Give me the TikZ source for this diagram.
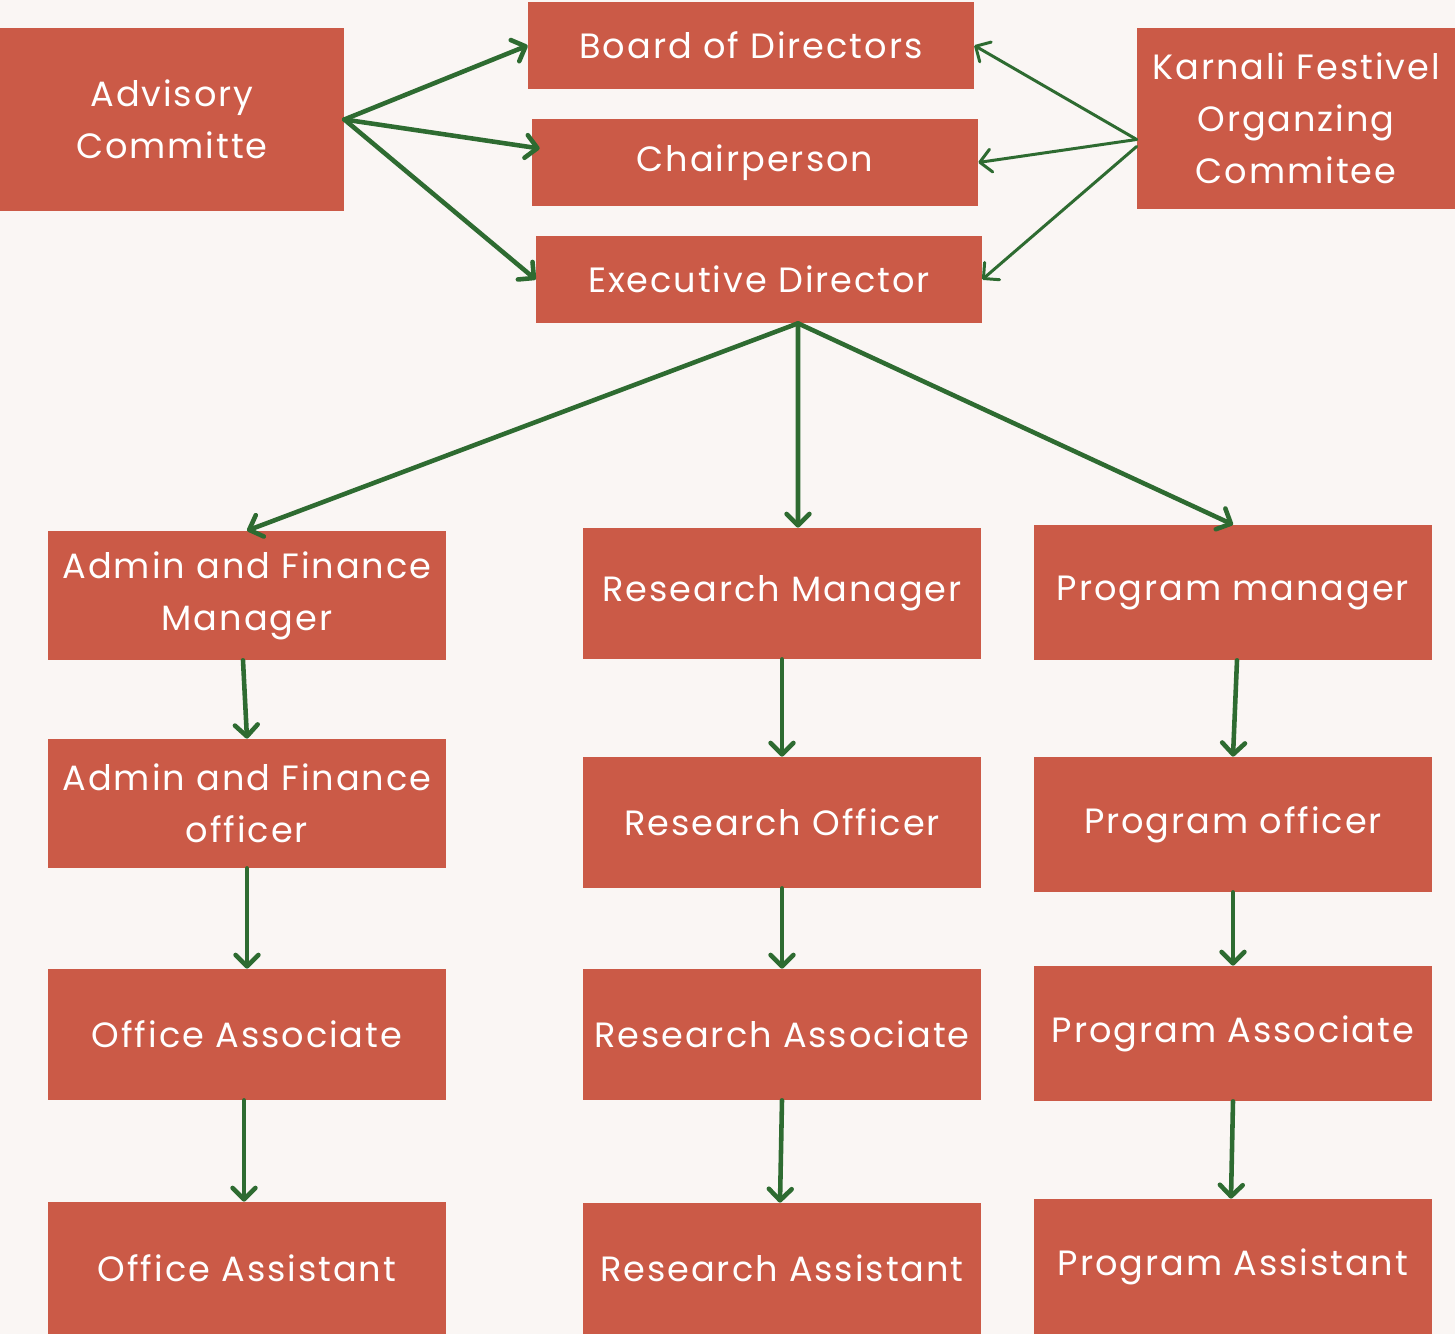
\documentclass[tikz,border=0pt]{standalone}
\usepackage{fontspec}
\setmainfont{Poppins}[LetterSpace=5.5]
\usepackage{xcolor}
\usetikzlibrary{arrows.meta,positioning,calc}

\definecolor{boxred}{HTML}{CB5A47}
\definecolor{paper}{HTML}{FAF6F4}
\definecolor{leaf}{HTML}{2E6B31}

\tikzset{
    role/.style={fill=boxred, text=white, inner sep=0pt, align=center,
        font=\fontsize{20}{29.5}\selectfont},
    col/.style={role, minimum width=7.96cm},
    link/.style={draw=leaf, line width=2.6pt, line cap=round,
        -{Straight Barb[length=6.5pt,width=13pt,round]}},
    thinlink/.style={link, line width=1.7pt}
}

\begin{document}
\begin{tikzpicture}[x=0.02cm, y=-0.02cm]
    % canvas
    \fill[paper] (0,0) rectangle (1455,1334);
    \useasboundingbox (0,0) rectangle (1455,1334);

    % Top level
    \node[role, minimum width=6.88cm, minimum height=3.66cm] (adv) at (172,119.5) {Advisory\\Committe};
    \node[role, minimum width=8.92cm, minimum height=1.74cm] (bod) at (751,45.5) {Board of Directors};
    \node[role, minimum width=8.92cm, minimum height=1.74cm] (chair) at (755,162.5) {Chairperson};
    \node[role, minimum width=8.92cm, minimum height=1.74cm] (ed) at (759,279.5) {Executive Director};
    \node[role, minimum width=6.36cm, minimum height=3.62cm] (kfoc) at (1296,118.5) {Karnali Festivel\\Organzing\\Commitee};

    % Admin column
    \node[col, minimum height=2.58cm] (afm) at (247,595.5) {Admin and Finance\\Manager};
    \node[col, minimum height=2.58cm] (afo) at (247,803.5) {Admin and Finance\\officer};
    \node[col, minimum height=2.62cm] (oa) at (247,1034.5) {Office Associate};
    \node[col, minimum height=2.64cm] (oas) at (247,1268) {Office Assistant};

    % Research column
    \node[col, minimum height=2.62cm] (rm) at (782,593.5) {Research Manager};
    \node[col, minimum height=2.62cm] (ro) at (782,822.5) {Research Officer};
    \node[col, minimum height=2.62cm] (ra) at (782,1034.5) {Research Associate};
    \node[col, minimum height=2.62cm] (ras) at (782,1268.5) {Research Assistant};

    % Program column
    \node[col, minimum height=2.70cm] (pm) at (1233,592.5) {Program manager};
    \node[col, minimum height=2.70cm] (po) at (1233,824.5) {Program officer};
    \node[col, minimum height=2.70cm] (pa) at (1233,1033.5) {Program Associate};
    \node[col, minimum height=2.70cm] (pas) at (1233,1266.5) {Program Assistant};

    % Advisory links
    \draw[link] (adv.east) -- (bod.west);
    \draw[link] (adv.east) -- ([xshift=0.16cm, yshift=0.28cm]chair.west);
    \draw[link] (adv.east) -- (ed.west);

    % Karnali links
    \coordinate (kf) at ([yshift=-0.42cm]kfoc.west);
    \draw[thinlink] (kf) -- (bod.east);
    \draw[thinlink] (kf) -- (chair.east);
    \draw[thinlink] ([yshift=-0.14cm]kf) -- (ed.east);

    % Executive Director links
    \coordinate (edhub) at ([xshift=0.78cm]ed.south);
    \draw[link] (edhub) -- (afm.north);
    \draw[link] (edhub) -- ([xshift=0.32cm]rm.north);
    \draw[link] (edhub) -- (pm.north);

    % Chains
    \draw[link] ([xshift=-0.08cm]afm.south) -- (afo.north);
    \draw[link] (afo) -- (oa);
    \draw[link] ([xshift=-0.06cm]oa.south) -- ([xshift=-0.06cm]oas.north);
    \draw[link] (rm) -- (ro);
    \draw[link] (ro) -- (ra);
    \draw[link] (ra.south) -- ([xshift=-0.04cm]ras.north);
    \draw[link] ([xshift=0.08cm]pm.south) -- (po.north);
    \draw[link] (po) -- (pa);
    \draw[link] (pa.south) -- ([xshift=-0.04cm]pas.north);
\end{tikzpicture}
\end{document}
